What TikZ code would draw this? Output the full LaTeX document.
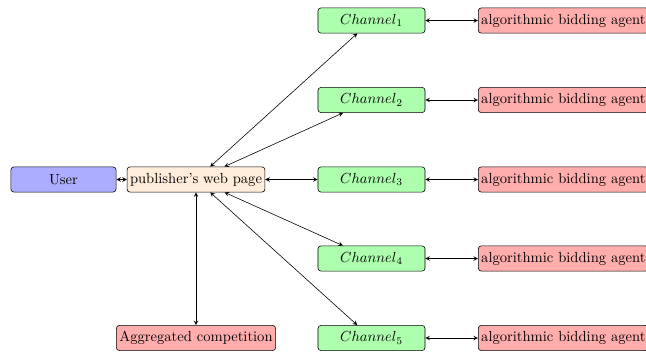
\documentclass[tikz,border=0pt]{standalone}
\usepackage{tikz}
\usetikzlibrary{arrows}

\begin{document}
\begin{tikzpicture}[x=0.685pt,y=-0.685pt,>=stealth,
	box/.style={draw,rounded corners=2pt,minimum height=17.2pt,inner sep=2pt},
	userbox/.style={box,fill=blue!32,minimum width=72pt},
	pagebox/.style={box,fill=orange!15},
	chanbox/.style={box,fill=green!32,minimum width=73.3pt},
	agentbox/.style={box,fill=red!32,anchor=west}]
		\useasboundingbox (0,0) rectangle (646,352);
		
		% Draw user and publisher
		\node[userbox] (user) at (63.5,179.5) {User};
		\node[pagebox] (page) at (196,179.5) {publisher's web page};
		\node[box,fill=red!32] (agg) at (196,338) {Aggregated competition};
		
		% Draw channels
		\node[chanbox] (ch1) at (371.5,20.5) {$Channel_1$};
		\node[chanbox] (ch2) at (371.5,100) {$Channel_2$};
		\node[chanbox] (ch3) at (371.5,179.5) {$Channel_3$};
		\node[chanbox] (ch4) at (371.5,258.5) {$Channel_4$};
		\node[chanbox] (ch5) at (371.5,338) {$Channel_5$};
		
		% Draw bidding agents
		\node[agentbox] (ag1) at (478,20.5) {algorithmic bidding agent};
		\node[agentbox] (ag2) at (478,100) {algorithmic bidding agent};
		\node[agentbox] (ag3) at (478,179.5) {algorithmic bidding agent};
		\node[agentbox] (ag4) at (478,258.5) {algorithmic bidding agent};
		\node[agentbox] (ag5) at (478,338) {algorithmic bidding agent};
		
		% Draw links
		\draw [<->] (user) -- (page);
		\draw [<->] (page) -- (agg);
		\draw [<->] (page) -- (ch1);
		\draw [<->] (page) -- (ch2);
		\draw [<->] (page) -- (ch3);
		\draw [<->] (page) -- (ch4);
		\draw [<->] (page) -- (ch5);
		\draw [<->] (ch1) -- (ag1);
		\draw [<->] (ch2) -- (ag2);
		\draw [<->] (ch3) -- (ag3);
		\draw [<->] (ch4) -- (ag4);
		\draw [<->] (ch5) -- (ag5);
\end{tikzpicture}
\end{document}
